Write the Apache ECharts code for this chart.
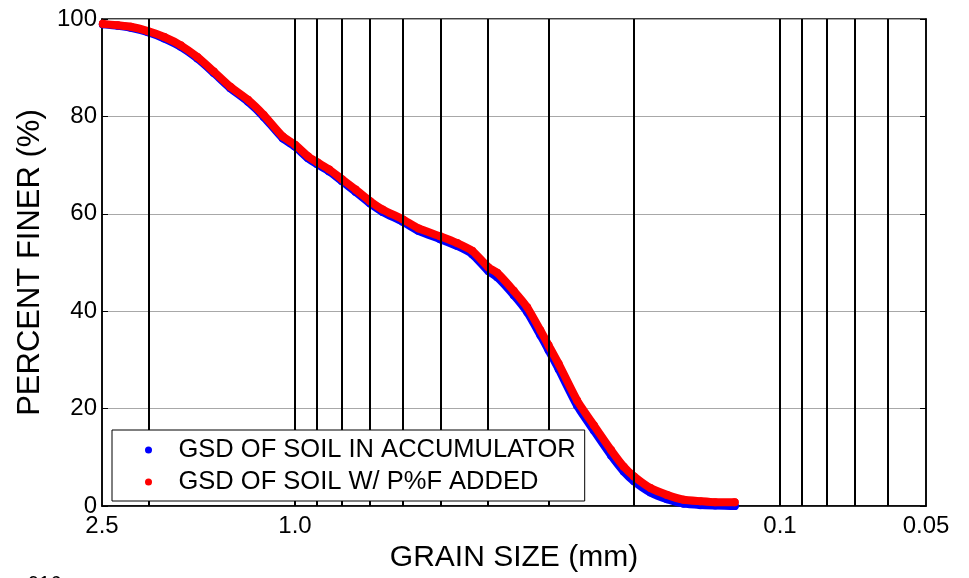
<!DOCTYPE html>
<html><head><meta charset="utf-8">
<script src="https://cdn.jsdelivr.net/npm/echarts@6/dist/echarts.min.js"></script>
<style>html,body{margin:0;padding:0;background:#fff}#c{width:969px;height:578px}</style>
</head><body><div id="c"></div>
<script>
// Grain size (mm)
const grainSize = [2.49, 2.32, 2.18, 2.01, 1.86, 1.72, 1.59, 1.47, 1.36, 1.25, 1.16, 1.06, 1.00, 0.94, 0.90, 0.85, 0.80, 0.75, 0.70, 0.66, 0.60, 0.556, 0.502, 0.463, 0.431, 0.399, 0.383, 0.354, 0.332, 0.312, 0.300, 0.286, 0.262, 0.242, 0.223, 0.210, 0.200, 0.185, 0.171, 0.158, 0.146, 0.136, 0.124];
// Percent finer, soil in accumulator (blue)
const finerAccumulator = [98.9, 98.6, 98.2, 97.3, 96.0, 94.3, 91.9, 88.9, 85.8, 83.0, 79.9, 75.5, 73.8, 71.4, 70.2, 68.7, 66.7, 64.5, 62.1, 60.4, 58.4, 56.5, 54.8, 53.4, 51.7, 48.2, 47.0, 43.3, 39.8, 35.1, 32.0, 28.1, 20.6, 15.5, 10.4, 7.1, 5.1, 2.8, 1.4, 0.5, 0.2, 0.1, 0.0];
// Percent finer, soil with P%F added (red)
const finerPF = [99.0, 98.7, 98.4, 97.5, 96.3, 94.6, 92.2, 89.2, 86.1, 83.4, 80.3, 75.9, 74.2, 71.8, 70.6, 69.1, 67.1, 65.0, 62.6, 60.9, 58.9, 57.0, 55.4, 54.0, 52.4, 49.0, 47.9, 44.2, 40.8, 36.1, 33.0, 29.2, 21.7, 16.6, 11.5, 8.1, 6.1, 3.7, 2.3, 1.3, 1.0, 0.8, 0.8];
// Vertical grid lines (mm)
const sieveLines = [2, 1, 0.9, 0.8, 0.7, 0.6, 0.5, 0.4, 0.3, 0.2, 0.1, 0.09, 0.08, 0.07, 0.06];
// Tick labels
const xTickValues = [2.5, 1.0, 0.1, 0.05];
const xTickLabels = ['2.5', '1.0', '0.1', '0.05'];
const yTickValues = [0, 20, 40, 60, 80, 100];
const seriesNames = ['GSD OF SOIL IN ACCUMULATOR', 'GSD OF SOIL W/ P%F ADDED'];

const FONT = 'Arial, "Liberation Sans", sans-serif';
const pairs = (xs, ys) => xs.map((x, i) => [x, ys[i]]);

const chart = echarts.init(document.getElementById('c'), null, {renderer: 'canvas'});
chart.setOption({
  animation: false,
  backgroundColor: '#fff',
  textStyle: {fontFamily: FONT, color: '#000'},
  grid: {left: 102, right: 43, top: 19, bottom: 70, show: true, borderColor: '#000', borderWidth: 1.5, backgroundColor: 'transparent'},
  xAxis: {
    type: 'log', logBase: 10, min: 0.05, max: 2.5, inverse: true,
    name: 'GRAIN SIZE (mm)', nameLocation: 'middle', nameGap: 33,
    nameTextStyle: {fontSize: 30, color: '#000', fontFamily: FONT},
    axisLine: {show: true, lineStyle: {color: '#000', width: 1.5}},
    axisTick: {show: true, inside: true, length: 4, customValues: sieveLines, lineStyle: {color: '#000'}},
    axisLabel: {
      fontSize: 24, color: '#000', margin: 8, fontFamily: FONT,
      customValues: xTickValues,
      formatter: function (v) {
        for (let i = 0; i < xTickValues.length; i++) {
          if (Math.abs(xTickValues[i] - v) < 1e-6) return xTickLabels[i];
        }
        return '';
      }
    },
    splitLine: {show: false},
    minorTick: {show: false}, minorSplitLine: {show: false}
  },
  yAxis: [{
    type: 'value', min: 0, max: 100, interval: 20,
    name: 'PERCENT FINER (%)', nameLocation: 'middle', nameGap: 55, nameRotate: 90,
    nameTextStyle: {fontSize: 31, color: '#000', fontFamily: FONT},
    axisLine: {show: true, lineStyle: {color: '#000', width: 1.5}},
    axisTick: {show: true, inside: true, length: 6, lineStyle: {color: '#000'}},
    axisLabel: {fontSize: 24, color: '#000', margin: 5, fontFamily: FONT,
      customValues: yTickValues},
    splitLine: {show: true, lineStyle: {color: '#a8a8a8', width: 1}}
  }, {
    type: 'value', min: 0, max: 100, interval: 20, position: 'right',
    axisLine: {show: true, lineStyle: {color: '#000', width: 1.5}},
    axisTick: {show: true, inside: true, length: 6, lineStyle: {color: '#000'}},
    axisLabel: {show: false},
    splitLine: {show: false}
  }],
  legend: {
    orient: 'vertical', left: 112, top: 430,
    padding: [7, 9, 6, 33], itemGap: 6, itemWidth: 50, itemHeight: 7,
    backgroundColor: '#fff', borderColor: '#000', borderWidth: 1, borderRadius: 0,
    z: 10,
    textStyle: {fontSize: 25.5, lineHeight: 26, color: '#000', fontFamily: FONT},
    data: [
      {name: seriesNames[0], icon: 'circle', itemStyle: {color: '#0000ff'}},
      {name: seriesNames[1], icon: 'circle', itemStyle: {color: '#ff0000'}}
    ]
  },
  graphic: [{
    type: 'text', left: 28, top: 574, silent: true,
    style: {text: '916', fontSize: 20, fill: '#000', fontFamily: FONT}
  }],
  series: [{
    name: 'grid', type: 'line', data: [], z: 1, silent: true,
    markLine: {
      silent: true, symbol: 'none', animation: false,
      label: {show: false},
      lineStyle: {color: '#000', type: 'solid', width: 2},
      data: sieveLines.map(v => ({xAxis: v}))
    }
  }, {
    name: seriesNames[0], type: 'line', z: 3, smooth: 0.2,
    data: pairs(grainSize, finerAccumulator),
    symbol: 'circle', symbolSize: 8, showSymbol: true, showAllSymbol: true,
    itemStyle: {color: '#0000ff'},
    lineStyle: {color: '#0000ff', width: 8, cap: 'round', join: 'round'}
  }, {
    name: seriesNames[1], type: 'line', z: 4, smooth: 0.2,
    data: pairs(grainSize, finerPF),
    symbol: 'circle', symbolSize: 8, showSymbol: true, showAllSymbol: true,
    itemStyle: {color: '#ff0000'},
    lineStyle: {color: '#ff0000', width: 8, cap: 'round', join: 'round'}
  }]
});
</script>
</body></html>
